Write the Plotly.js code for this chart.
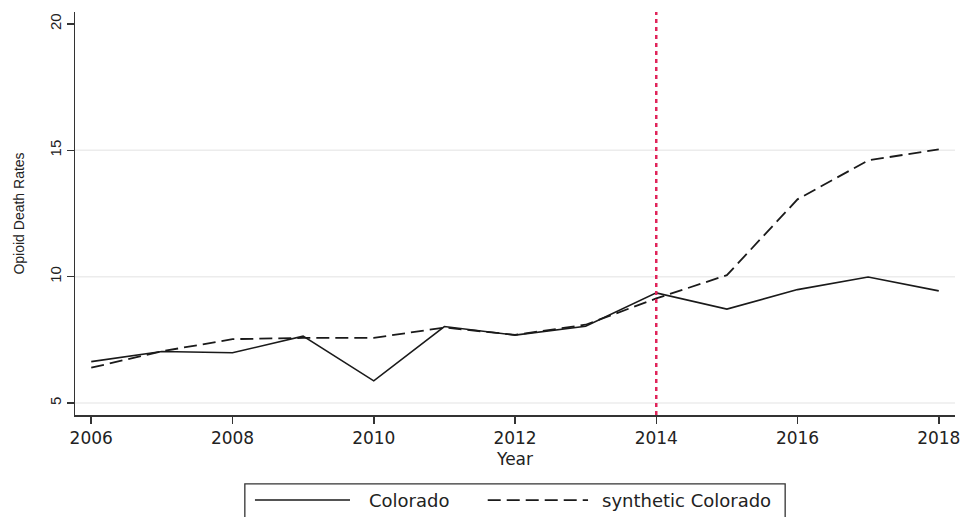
<!DOCTYPE html>
<html>
<head>
<meta charset="utf-8">
<script src="https://cdn.plot.ly/plotly-3.0.1.min.js"></script>
<style>html,body{margin:0;padding:0;background:#fff;}#chart{width:963px;height:517px;}</style>
</head>
<body>
<div id="chart"></div>
<script>
var years = [2006, 2007, 2008, 2009, 2010, 2011, 2012, 2013, 2014, 2015, 2016, 2017, 2018];
var colorado = [6.64, 7.04, 6.99, 7.65, 5.88, 8.03, 7.69, 8.04, 9.36, 8.72, 9.49, 9.99, 9.44];
var syntheticColorado = [6.40, 7.05, 7.53, 7.58, 7.58, 7.99, 7.70, 8.10, 9.14, 10.06, 13.06, 14.60, 15.04];
var seriesNames = ["Colorado", "synthetic Colorado"];
var xTicks = [2006, 2008, 2010, 2012, 2014, 2016, 2018];
var yTicks = [5, 10, 15, 20];
var gridValues = [5, 10, 15];
var interventionYear = 2014;

var traces = [
  {x: years, y: colorado, name: seriesNames[0], type: "scatter", mode: "lines",
   line: {color: "#1a1a1a", width: 1.6}, showlegend: false},
  {x: years, y: syntheticColorado, name: seriesNames[1], type: "scatter", mode: "lines",
   line: {color: "#1a1a1a", width: 1.8, dash: "13px,6px"}, showlegend: false}
];

var legY = -0.211;
var shapes = gridValues.map(function (v) {
  return {type: "line", xref: "paper", yref: "y", x0: 0, x1: 1, y0: v, y1: v, layer: "below",
          line: {color: "#ececec", width: 1.5}};
});
shapes.push(
  {type: "line", xref: "x", yref: "paper", x0: interventionYear, x1: interventionYear, y0: 0, y1: 1,
   line: {color: "#e0245a", width: 2.5, dash: "4px,4px"}},
  {type: "rect", xref: "paper", yref: "paper", x0: 0.193, x1: 0.807, y0: -0.171, y1: -0.32,
   line: {color: "#333", width: 1.3}, fillcolor: "rgba(0,0,0,0)"},
  {type: "line", xref: "paper", yref: "paper", x0: 0.2045, x1: 0.3125, y0: legY, y1: legY,
   line: {color: "#1a1a1a", width: 1.6}},
  {type: "line", xref: "paper", yref: "paper", x0: 0.469, x1: 0.583, y0: legY, y1: legY,
   line: {color: "#1a1a1a", width: 1.8, dash: "13px,6px"}}
);

var layout = {
  width: 963, height: 517,
  margin: {l: 75, r: 8, t: 12, b: 102},
  paper_bgcolor: "#fff", plot_bgcolor: "#fff",
  showlegend: false,
  font: {family: "DejaVu Sans", color: "#222"},
  xaxis: {
    range: [2005.77, 2018.23], tickvals: xTicks, ticktext: xTicks.map(String),
    showgrid: false, zeroline: false,
    showline: true, linecolor: "#333", linewidth: 1.5,
    ticks: "outside", ticklen: 7, tickcolor: "#333", tickwidth: 1.5,
    tickfont: {family: "DejaVu Sans", size: 17, color: "#222"},
    title: {text: "Year", font: {family: "DejaVu Sans", size: 17, color: "#222"}, standoff: 6}
  },
  yaxis: {
    range: [4.53, 20.47], tickvals: yTicks, ticktext: yTicks.map(String),
    tickangle: -90,
    showgrid: false, zeroline: false,
    showline: true, linecolor: "#333", linewidth: 1.5,
    ticks: "outside", ticklen: 7, tickcolor: "#333", tickwidth: 1.5,
    tickfont: {family: "Liberation Sans", size: 15, color: "#222"},
    title: {text: "Opioid Death Rates", font: {family: "Liberation Sans", size: 14, color: "#222"}, standoff: 18}
  },
  shapes: shapes,
  annotations: [
    {xref: "paper", yref: "paper", x: 0.332, y: legY, xanchor: "left", yanchor: "middle",
     text: seriesNames[0], showarrow: false, font: {family: "DejaVu Sans", size: 18, color: "#222"}},
    {xref: "paper", yref: "paper", x: 0.597, y: legY, xanchor: "left", yanchor: "middle",
     text: seriesNames[1], showarrow: false, font: {family: "DejaVu Sans", size: 18, color: "#222"}}
  ]
};

Plotly.newPlot("chart", traces, layout, {displayModeBar: false, staticPlot: true});
</script>
</body>
</html>
